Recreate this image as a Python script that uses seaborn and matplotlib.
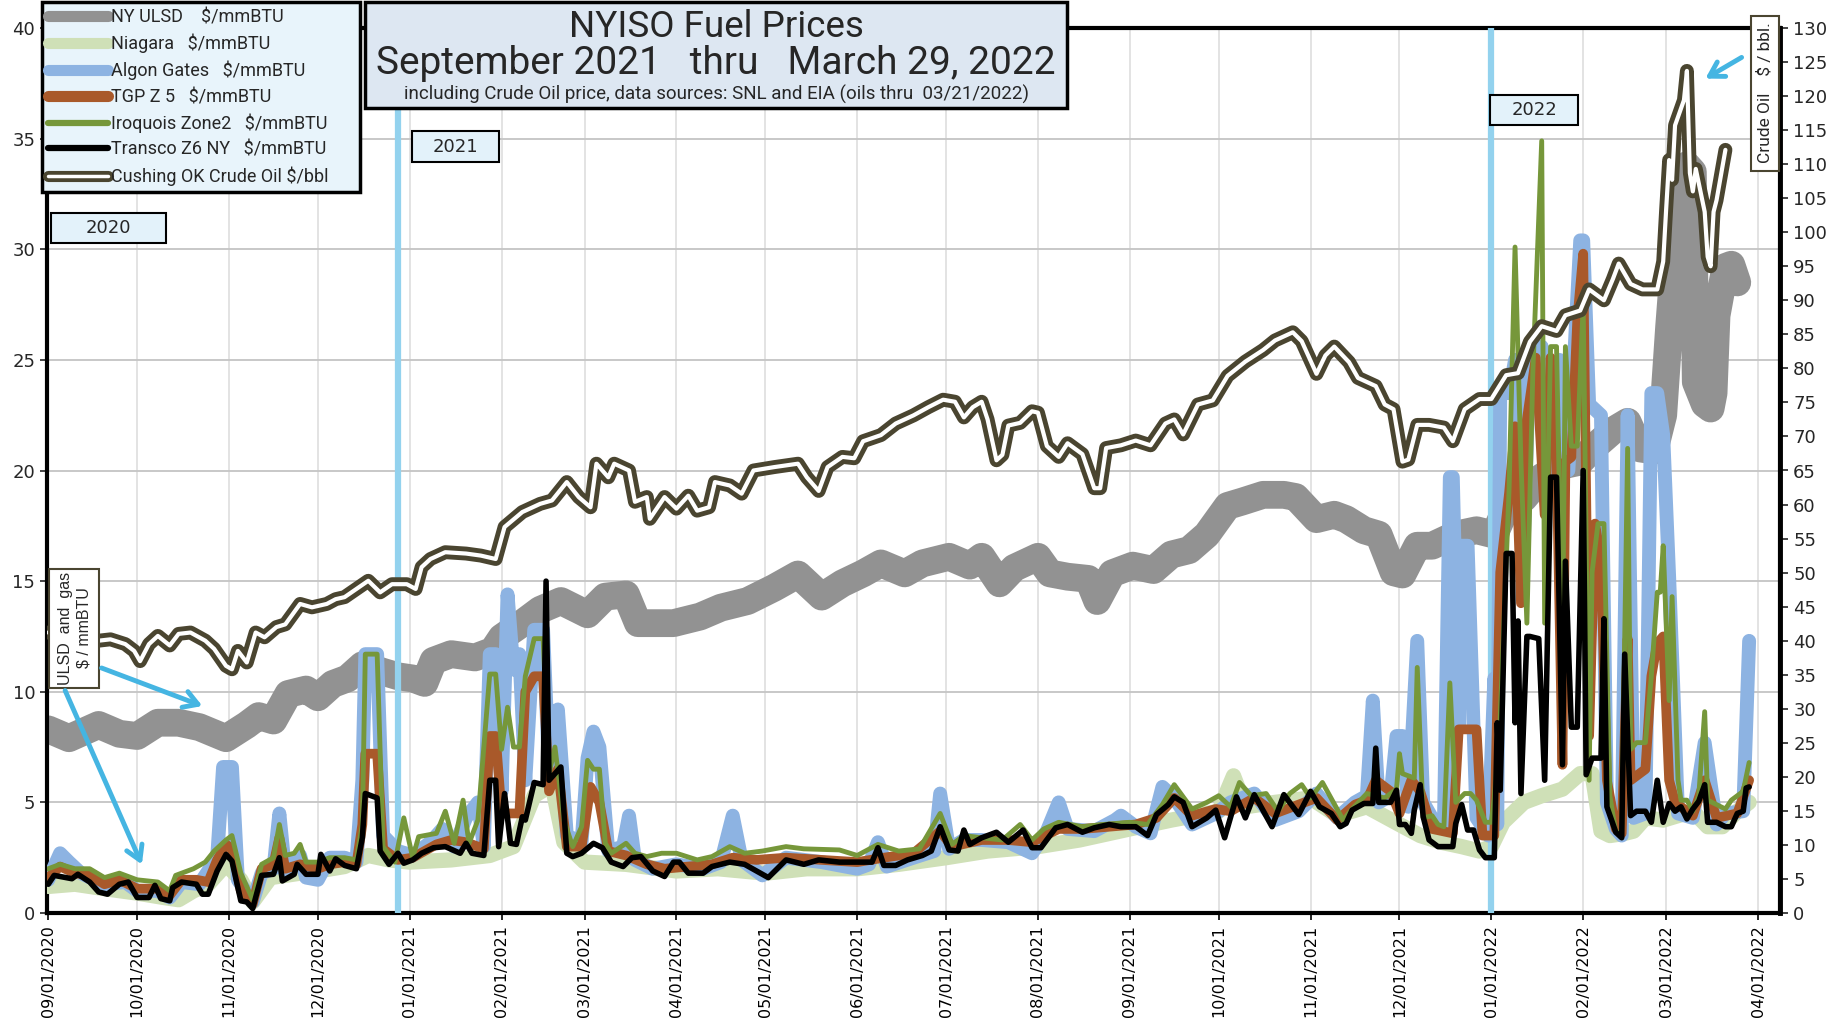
import matplotlib
matplotlib.use("Agg")
import matplotlib.pyplot as plt
import matplotlib.dates as mdates
import matplotlib.patheffects as pe
from matplotlib.lines import Line2D
from matplotlib.patches import Rectangle, FancyArrowPatch
import pandas as pd
import seaborn as sns

W, H = 1835, 1027

# ---------------- data ----------------
ulsd_dates = ["2020-09-01","2020-09-08","2020-09-18","2020-09-25","2020-10-01","2020-10-08","2020-10-15","2020-10-22",
              "2020-10-31","2020-11-07","2020-11-11","2020-11-16","2020-11-21","2020-11-27","2020-12-01","2020-12-06",
              "2020-12-11","2020-12-16","2020-12-23","2020-12-28","2021-01-02","2021-01-06","2021-01-09","2021-01-15",
              "2021-01-23","2021-01-29","2021-02-01","2021-02-08","2021-02-14","2021-02-21","2021-03-02","2021-03-08",
              "2021-03-15","2021-03-19","2021-03-31","2021-04-09","2021-04-16","2021-04-25","2021-05-04","2021-05-12",
              "2021-05-20","2021-05-27","2021-06-03","2021-06-09","2021-06-17","2021-06-23","2021-07-02","2021-07-09",
              "2021-07-13","2021-07-19","2021-07-24","2021-08-01","2021-08-05","2021-08-11","2021-08-18","2021-08-21",
              "2021-08-26","2021-09-02","2021-09-09","2021-09-15","2021-09-21","2021-09-27","2021-10-04","2021-10-09",
              "2021-10-16","2021-10-23","2021-10-27","2021-11-03","2021-11-09","2021-11-13","2021-11-19","2021-11-24",
              "2021-11-29","2021-12-02","2021-12-07","2021-12-12","2021-12-20","2021-12-27","2022-01-02","2022-01-06",
              "2022-01-12","2022-01-18","2022-01-24","2022-01-31","2022-02-05","2022-02-11","2022-02-16","2022-02-20",
              "2022-02-25","2022-02-28","2022-03-02","2022-03-04","2022-03-07","2022-03-08","2022-03-10","2022-03-11",
              "2022-03-14","2022-03-16","2022-03-17","2022-03-18","2022-03-21","2022-03-23","2022-03-25"]
ulsd_vals = [8.3,7.9,8.5,8.1,8.0,8.6,8.6,8.4,7.9,8.5,8.9,8.7,9.9,10.1,9.75,10.35,10.6,11.2,10.9,10.7,10.6,10.4,11.4,11.7,
             11.55,11.85,12.45,13.1,13.7,14.1,13.5,14.3,14.4,13.1,13.1,13.4,13.8,14.1,14.7,15.3,14.3,14.9,15.35,15.8,15.35,
             15.8,16.1,15.7,16.1,14.9,15.6,16.1,15.35,15.2,15.1,14.1,15.35,15.7,15.5,16.2,16.4,17.1,18.4,18.6,18.9,18.9,
             18.8,17.8,18.0,17.8,17.3,17.1,15.4,15.3,16.6,16.6,17.1,17.3,17.1,18.3,18.75,19.7,20.2,20.4,21.1,21.8,22.2,
             21.0,20.9,22.5,26.5,30.0,33.0,33.8,33.5,24.0,23.0,22.8,23.5,27.0,29.2,29.3,28.5]

niagara_dates = ["2020-09-01","2020-09-10","2020-09-20","2020-10-01","2020-10-10","2020-10-15","2020-10-20","2020-10-25",
                 "2020-10-31","2020-11-05","2020-11-09","2020-11-15","2020-11-25","2020-12-01","2020-12-10","2020-12-18",
                 "2020-12-25","2021-01-01","2021-01-15","2021-01-28","2021-02-05","2021-02-12","2021-02-18","2021-02-22",
                 "2021-03-01","2021-03-15","2021-04-01","2021-04-15","2021-05-01","2021-05-15","2021-06-01","2021-06-15",
                 "2021-07-01","2021-07-15","2021-08-01","2021-08-15","2021-09-01","2021-09-15","2021-10-01","2021-10-06",
                 "2021-10-10","2021-10-20","2021-11-01","2021-11-10","2021-11-20","2021-12-01","2021-12-08","2021-12-15",
                 "2021-12-22","2021-12-28","2022-01-01","2022-01-05","2022-01-12","2022-01-18","2022-01-25","2022-01-31",
                 "2022-02-04","2022-02-07","2022-02-10","2022-02-15","2022-02-18","2022-02-22","2022-02-28","2022-03-05",
                 "2022-03-10","2022-03-15","2022-03-20","2022-03-25","2022-03-29"]
niagara_vals = [1.2,1.3,1.1,0.9,0.7,0.6,1.0,1.3,2.2,1.5,0.5,1.6,1.8,1.9,2.1,2.6,2.4,2.3,2.4,2.6,3.0,5.3,5.8,3.2,2.3,2.2,
                1.9,2.0,1.8,2.0,2.0,2.2,2.5,2.8,3.0,3.3,3.8,4.2,4.6,6.2,4.8,5.0,5.2,4.4,4.8,4.0,3.5,3.2,3.0,2.8,3.0,4.1,
                5.0,5.3,5.6,6.3,6.3,3.7,3.5,3.6,3.7,4.3,4.2,4.4,4.6,3.9,3.9,4.6,5.0]

algon_dates = ["2020-09-01","2020-09-05","2020-09-08","2020-09-12","2020-09-20","2020-09-27","2020-10-01","2020-10-08",
               "2020-10-12","2020-10-16","2020-10-22","2020-10-28","2020-10-30","2020-11-02","2020-11-04","2020-11-09",
               "2020-11-12","2020-11-16","2020-11-18","2020-11-20","2020-11-25","2020-11-27","2020-12-01","2020-12-05",
               "2020-12-10","2020-12-14","2020-12-16","2020-12-17","2020-12-21","2020-12-23","2020-12-28","2021-01-02",
               "2021-01-08","2021-01-12","2021-01-16","2021-01-20","2021-01-24","2021-01-26","2021-01-28","2021-01-30",
               "2021-02-01","2021-02-03","2021-02-05","2021-02-07","2021-02-09","2021-02-12","2021-02-15","2021-02-17",
               "2021-02-20","2021-02-23","2021-02-28","2021-03-02","2021-03-04","2021-03-06","2021-03-09","2021-03-14",
               "2021-03-16","2021-03-18","2021-03-24","2021-04-01","2021-04-10","2021-04-16","2021-04-20","2021-04-23",
               "2021-04-30","2021-05-08","2021-05-20","2021-06-01","2021-06-05","2021-06-08","2021-06-11","2021-06-20",
               "2021-06-27","2021-06-29","2021-07-02","2021-07-07","2021-07-13","2021-07-22","2021-07-30","2021-08-04",
               "2021-08-08","2021-08-11","2021-08-20","2021-08-27","2021-08-29","2021-09-03","2021-09-08","2021-09-12",
               "2021-09-16","2021-09-22","2021-09-30","2021-10-05","2021-10-13","2021-10-20","2021-10-28","2021-11-03",
               "2021-11-10","2021-11-16","2021-11-20","2021-11-22","2021-11-24","2021-11-28","2021-11-30","2021-12-02",
               "2021-12-04","2021-12-07","2021-12-09","2021-12-12","2021-12-16","2021-12-18","2021-12-19","2021-12-21",
               "2021-12-22","2021-12-24","2021-12-27","2021-12-31","2022-01-02","2022-01-03","2022-01-04","2022-01-07",
               "2022-01-09","2022-01-12","2022-01-14","2022-01-18","2022-01-20","2022-01-24","2022-01-27","2022-01-31",
               "2022-02-01","2022-02-03","2022-02-07","2022-02-09","2022-02-12","2022-02-14","2022-02-16","2022-02-18",
               "2022-02-22","2022-02-24","2022-02-26","2022-02-28","2022-03-02","2022-03-05","2022-03-10","2022-03-14",
               "2022-03-18","2022-03-21","2022-03-27","2022-03-29"]
algon_vals = [1.5,2.7,2.3,1.8,1.3,1.4,1.0,1.0,0.7,1.4,1.3,2.5,6.6,6.6,1.5,0.5,1.8,2.0,4.5,1.8,2.6,1.6,1.5,2.5,2.5,2.3,
              6.0,11.7,11.7,3.5,2.8,2.6,3.2,3.8,3.0,4.3,5.0,3.0,11.7,11.7,5.5,14.4,11.0,11.7,6.0,12.8,12.8,6.5,9.2,3.5,
              3.2,7.0,8.2,7.5,2.8,3.0,4.4,2.4,2.0,2.2,2.0,2.3,4.4,2.4,1.7,2.5,2.3,2.0,2.2,3.2,2.1,2.5,2.8,5.4,2.9,3.3,
              3.3,3.2,2.7,3.7,5.0,3.8,3.7,4.2,4.4,3.9,3.6,5.7,5.2,4.0,4.5,5.0,5.4,4.2,4.6,5.4,4.3,5.0,5.3,9.6,5.0,5.3,
              8.0,8.0,4.8,12.3,5.0,4.3,4.0,19.7,19.7,8.5,16.6,16.6,4.3,3.5,10.6,4.0,23.5,23.5,25.0,17.0,25.6,25.6,22.0,
              25.0,20.0,30.4,30.4,23.0,22.5,5.0,3.8,3.5,22.5,4.3,4.5,23.5,23.5,21.6,15.2,4.5,4.3,7.7,4.0,4.5,4.6,12.3]

tgp_dates = ["2020-09-01","2020-09-05","2020-09-10","2020-09-15","2020-09-20","2020-09-25","2020-10-01","2020-10-08",
             "2020-10-12","2020-10-16","2020-10-21","2020-10-25","2020-10-28","2020-10-31","2020-11-02","2020-11-05",
             "2020-11-09","2020-11-12","2020-11-16","2020-11-18","2020-11-20","2020-11-25","2020-12-01","2020-12-05",
             "2020-12-10","2020-12-14","2020-12-16","2020-12-17","2020-12-21","2020-12-23","2020-12-28","2021-01-02",
             "2021-01-10","2021-01-15","2021-01-20","2021-01-26","2021-01-28","2021-01-30","2021-02-01","2021-02-05",
             "2021-02-07","2021-02-09","2021-02-12","2021-02-15","2021-02-17","2021-02-20","2021-02-23","2021-02-28",
             "2021-03-03","2021-03-06","2021-03-09","2021-03-15","2021-03-22","2021-03-28","2021-04-05","2021-04-13",
             "2021-04-20","2021-04-28","2021-05-08","2021-05-20","2021-06-01","2021-06-10","2021-06-20","2021-06-29",
             "2021-07-03","2021-07-13","2021-07-22","2021-07-30","2021-08-08","2021-08-16","2021-08-25","2021-09-03",
             "2021-09-10","2021-09-16","2021-09-22","2021-09-30","2021-10-05","2021-10-13","2021-10-20","2021-10-28",
             "2021-11-03","2021-11-10","2021-11-16","2021-11-20","2021-11-23","2021-11-28","2021-12-01","2021-12-05",
             "2021-12-08","2021-12-12","2021-12-19","2021-12-21","2021-12-27","2021-12-29","2022-01-02","2022-01-04",
             "2022-01-07","2022-01-09","2022-01-11","2022-01-13","2022-01-16","2022-01-19","2022-01-21","2022-01-23",
             "2022-01-25","2022-01-26","2022-01-28","2022-01-30","2022-02-01","2022-02-03","2022-02-05","2022-02-07",
             "2022-02-09","2022-02-12","2022-02-14","2022-02-16","2022-02-17","2022-02-22","2022-02-24","2022-02-26",
             "2022-02-28","2022-03-02","2022-03-04","2022-03-10","2022-03-14","2022-03-18","2022-03-25","2022-03-29"]
tgp_vals = [1.6,2.1,1.8,1.7,1.3,1.5,1.1,1.1,0.8,1.5,1.5,1.4,2.4,3.1,2.9,1.0,0.4,2.0,2.2,3.4,2.0,2.2,2.0,2.2,2.3,2.2,
            4.0,7.2,7.2,2.9,2.4,2.5,3.1,3.3,3.2,2.9,8.0,8.0,4.5,4.5,4.5,10.0,10.7,10.7,5.5,6.5,3.0,3.0,5.7,5.0,2.8,2.6,
            2.2,2.0,2.1,2.2,2.5,2.4,2.5,2.4,2.3,2.5,2.7,3.7,3.0,3.3,3.3,3.2,3.8,3.8,3.9,4.0,4.3,5.2,4.4,4.7,4.6,5.2,
            4.5,4.9,5.2,4.2,4.9,5.1,6.0,5.5,4.5,6.0,5.5,3.8,3.6,8.3,8.3,3.5,3.5,15.4,19.0,22.0,14.0,22.3,25.1,18.0,
            25.1,20.6,6.7,20.4,20.6,26.8,29.8,8.0,17.6,16.0,6.0,3.8,3.6,12.4,6.0,6.5,10.7,12.2,12.5,6.0,5.0,4.4,6.0,
            4.3,4.5,6.0]

iroq_dates = ["2020-09-01","2020-09-05","2020-09-10","2020-09-15","2020-09-20","2020-09-25","2020-10-01","2020-10-08",
              "2020-10-12","2020-10-14","2020-10-20","2020-10-24","2020-10-27","2020-10-31","2020-11-02","2020-11-05",
              "2020-11-09","2020-11-12","2020-11-16","2020-11-18","2020-11-20","2020-11-23","2020-11-25","2020-11-27",
              "2020-12-01","2020-12-05","2020-12-10","2020-12-14","2020-12-16","2020-12-17","2020-12-21","2020-12-23",
              "2020-12-27","2020-12-30","2021-01-02","2021-01-04","2021-01-10","2021-01-13","2021-01-16","2021-01-19",
              "2021-01-21","2021-01-24","2021-01-28","2021-01-30","2021-02-01","2021-02-03","2021-02-05","2021-02-07",
              "2021-02-09","2021-02-12","2021-02-15","2021-02-17","2021-02-19","2021-02-22","2021-02-25","2021-02-28",
              "2021-03-02","2021-03-04","2021-03-06","2021-03-08","2021-03-10","2021-03-15","2021-03-18","2021-03-22",
              "2021-03-27","2021-04-01","2021-04-08","2021-04-13","2021-04-19","2021-04-24","2021-04-30","2021-05-08",
              "2021-05-14","2021-05-26","2021-06-01","2021-06-08","2021-06-15","2021-06-22","2021-06-29","2021-07-03",
              "2021-07-07","2021-07-13","2021-07-20","2021-07-26","2021-07-30","2021-08-03","2021-08-08","2021-08-16",
              "2021-08-23","2021-09-01","2021-09-07","2021-09-12","2021-09-16","2021-09-22","2021-09-27","2021-10-01",
              "2021-10-05","2021-10-08","2021-10-12","2021-10-17","2021-10-21","2021-10-25","2021-10-29","2021-11-01",
              "2021-11-05","2021-11-12","2021-11-15","2021-11-20","2021-11-26","2021-11-30","2021-12-01","2021-12-02",
              "2021-12-06","2021-12-07","2021-12-09","2021-12-12","2021-12-14","2021-12-16","2021-12-18","2021-12-20",
              "2021-12-23","2021-12-25","2021-12-27","2021-12-30","2022-01-01","2022-01-02","2022-01-04",
              "2022-01-05","2022-01-07","2022-01-09","2022-01-11","2022-01-13","2022-01-15","2022-01-18","2022-01-19",
              "2022-01-21","2022-01-23","2022-01-25","2022-01-26","2022-01-28","2022-01-30","2022-02-01","2022-02-03",
              "2022-02-04","2022-02-06","2022-02-08","2022-02-10","2022-02-12","2022-02-14","2022-02-16","2022-02-17",
              "2022-02-19","2022-02-22","2022-02-24","2022-02-26","2022-02-27","2022-02-28","2022-03-02","2022-03-03",
              "2022-03-05","2022-03-06","2022-03-08","2022-03-10","2022-03-12","2022-03-14","2022-03-15","2022-03-18",
              "2022-03-21","2022-03-23","2022-03-25","2022-03-27","2022-03-29"]
iroq_vals = [2.0,2.2,2.0,2.0,1.6,1.8,1.5,1.4,1.0,1.7,2.0,2.3,2.8,3.3,3.5,1.8,0.6,2.2,2.5,4.0,2.6,2.7,3.1,2.3,2.3,2.5,
             2.5,2.4,4.0,11.7,11.7,3.0,2.3,4.3,2.5,3.45,3.6,4.6,3.15,5.1,3.15,4.2,10.8,10.8,7.4,9.3,7.5,7.5,10.7,12.4,
             12.4,6.3,7.5,4.2,3.0,3.9,6.9,6.5,6.5,3.15,2.7,3.15,2.7,2.55,2.7,2.7,2.4,2.55,3.0,2.7,2.8,3.0,2.9,2.85,2.6,
             3.1,2.8,2.9,4.5,3.1,3.5,3.4,3.3,4.0,3.3,3.8,4.1,3.9,4.0,4.1,4.0,4.9,5.8,4.7,5.0,5.3,4.8,5.9,5.3,5.4,4.6,
             5.4,5.8,5.2,5.9,4.2,4.7,5.4,5.2,5.6,7.2,6.3,6.1,11.1,4.3,4.4,4.0,3.9,10.4,5.0,5.4,5.4,5.1,4.1,4.1,
             5.2,8.8,12.4,19.2,30.1,20.4,13.1,24.4,34.9,13.1,25.6,25.6,11.9,25.6,21.1,21.1,27.5,6.0,15.4,17.6,17.6,5.3,
             3.65,3.65,21.0,7.4,7.7,7.7,10.7,14.5,14.5,16.6,9.6,14.3,6.0,5.1,5.1,4.6,5.3,9.1,5.1,4.9,4.7,5.1,5.3,5.5,6.8]

transco_dates = ["2020-09-01","2020-09-03","2020-09-09","2020-09-11","2020-09-15","2020-09-18","2020-09-21","2020-09-25",
                 "2020-09-28","2020-10-01","2020-10-05","2020-10-07","2020-10-09","2020-10-12","2020-10-13","2020-10-16",
                 "2020-10-21","2020-10-23","2020-10-25","2020-10-28","2020-10-31","2020-11-02","2020-11-05","2020-11-07",
                 "2020-11-09","2020-11-12","2020-11-16","2020-11-18","2020-11-19","2020-11-23","2020-11-24","2020-11-27",
                 "2020-12-01","2020-12-02","2020-12-05","2020-12-07","2020-12-10","2020-12-14","2020-12-16","2020-12-17",
                 "2020-12-21","2020-12-22","2020-12-25","2020-12-28","2020-12-30","2021-01-02","2021-01-05","2021-01-09",
                 "2021-01-13","2021-01-18","2021-01-20","2021-01-22","2021-01-26","2021-01-28","2021-01-30","2021-01-31",
                 "2021-02-02","2021-02-04","2021-02-06","2021-02-08","2021-02-09","2021-02-12","2021-02-15","2021-02-16",
                 "2021-02-17","2021-02-21","2021-02-23","2021-02-25","2021-02-28","2021-03-04","2021-03-07","2021-03-10",
                 "2021-03-14","2021-03-17","2021-03-20","2021-03-24","2021-03-28","2021-03-31","2021-04-02","2021-04-05",
                 "2021-04-10","2021-04-13","2021-04-19","2021-04-24","2021-05-02","2021-05-08","2021-05-14","2021-05-19",
                 "2021-05-26","2021-06-06","2021-06-08","2021-06-10","2021-06-14","2021-06-18","2021-06-23","2021-06-26",
                 "2021-06-29","2021-07-02","2021-07-05","2021-07-07","2021-07-09","2021-07-13","2021-07-18","2021-07-22",
                 "2021-07-27","2021-07-30","2021-08-02","2021-08-07","2021-08-11","2021-08-16","2021-08-20","2021-08-25",
                 "2021-08-29","2021-09-03","2021-09-07","2021-09-10","2021-09-14","2021-09-16","2021-09-19","2021-09-22",
                 "2021-09-27","2021-09-30","2021-10-03","2021-10-07","2021-10-10","2021-10-13","2021-10-19","2021-10-23",
                 "2021-10-28","2021-11-01","2021-11-04","2021-11-08","2021-11-11","2021-11-13","2021-11-15","2021-11-17",
                 "2021-11-19","2021-11-22","2021-11-23","2021-11-24","2021-11-28","2021-11-30","2021-12-01","2021-12-03",
                 "2021-12-05","2021-12-06","2021-12-08","2021-12-09","2021-12-11","2021-12-14","2021-12-16","2021-12-19",
                 "2021-12-20","2021-12-22","2021-12-24","2021-12-26","2021-12-28","2021-12-30","2022-01-02","2022-01-03",
                 "2022-01-04","2022-01-06","2022-01-08","2022-01-09","2022-01-10","2022-01-11","2022-01-13","2022-01-14",
                 "2022-01-17","2022-01-19","2022-01-21","2022-01-23","2022-01-25","2022-01-26","2022-01-28","2022-01-30",
                 "2022-02-01","2022-02-02","2022-02-04","2022-02-07","2022-02-08","2022-02-09","2022-02-12","2022-02-14",
                 "2022-02-15","2022-02-17","2022-02-19","2022-02-22","2022-02-24","2022-02-26","2022-02-28","2022-03-02",
                 "2022-03-04","2022-03-06","2022-03-08","2022-03-10","2022-03-12","2022-03-14","2022-03-15","2022-03-18",
                 "2022-03-21","2022-03-23","2022-03-25","2022-03-27","2022-03-28","2022-03-29"]
transco_vals = [1.3,1.7,1.55,1.75,1.4,0.95,0.85,1.3,1.4,0.7,0.7,1.25,0.65,0.55,1.15,1.4,1.3,0.85,0.85,1.9,2.65,2.35,0.55,
                0.5,0.2,1.7,1.75,2.5,1.45,1.75,2.2,1.75,1.75,2.65,1.9,2.45,2.15,2.0,3.4,5.4,5.2,2.8,2.2,2.7,2.25,2.4,2.7,
                2.95,3.0,2.7,3.15,2.7,2.6,6.0,6.0,3.0,5.4,3.15,3.1,4.35,4.2,5.9,5.8,15.0,6.0,6.6,2.7,2.55,2.7,3.15,2.95,
                2.3,2.1,2.5,2.55,1.9,1.65,2.3,2.3,1.8,1.8,2.1,2.3,2.2,1.6,2.4,2.2,2.4,2.3,2.3,2.95,2.15,2.15,2.4,2.6,2.8,
                3.9,2.85,2.8,3.75,3.1,3.4,3.65,3.2,3.75,2.95,2.95,3.85,4.0,3.65,3.85,4.0,3.9,3.9,3.5,4.45,4.9,5.25,5.0,
                3.9,4.3,4.65,3.4,5.25,4.3,5.35,3.9,5.35,4.45,5.5,4.8,4.5,3.9,4.05,4.65,4.8,4.95,4.95,7.45,5.0,5.0,5.55,
                4.0,4.0,3.6,4.65,5.8,4.35,3.3,3.0,3.0,3.0,4.05,4.9,3.75,3.75,2.85,2.5,2.5,8.6,5.55,16.25,16.25,8.6,13.2,
                5.4,12.5,12.5,12.4,6.0,19.7,19.7,6.7,15.9,8.4,8.4,20.0,6.25,7.0,7.0,13.3,4.8,3.65,3.4,11.7,4.4,4.6,4.6,
                4.1,6.0,4.1,4.95,4.6,4.8,4.25,4.7,5.05,5.8,4.1,4.1,3.9,3.9,4.5,4.6,5.65,5.7]

crude_dates = ["2020-09-01","2020-09-05","2020-09-10","2020-09-13","2020-09-18","2020-09-22","2020-09-27","2020-09-30",
               "2020-10-02","2020-10-05","2020-10-08","2020-10-12","2020-10-15","2020-10-19","2020-10-24","2020-10-27",
               "2020-10-31","2020-11-02","2020-11-04","2020-11-07","2020-11-10","2020-11-13","2020-11-17","2020-11-20",
               "2020-11-25","2020-11-29","2020-12-04","2020-12-07","2020-12-10","2020-12-14","2020-12-18","2020-12-22",
               "2020-12-26","2020-12-31","2021-01-03","2021-01-05","2021-01-08","2021-01-13","2021-01-20","2021-01-25",
               "2021-01-30","2021-02-02","2021-02-08","2021-02-14","2021-02-18","2021-02-23","2021-02-27","2021-03-03",
               "2021-03-05","2021-03-09","2021-03-11","2021-03-16","2021-03-18","2021-03-22","2021-03-23","2021-03-28",
               "2021-04-01","2021-04-05","2021-04-08","2021-04-12","2021-04-14","2021-04-19","2021-04-23","2021-04-27",
               "2021-05-04","2021-05-12","2021-05-15","2021-05-19","2021-05-22","2021-05-27","2021-05-31","2021-06-03",
               "2021-06-09","2021-06-14","2021-06-20","2021-06-25","2021-06-30","2021-07-04","2021-07-07","2021-07-10",
               "2021-07-13","2021-07-15","2021-07-18","2021-07-20","2021-07-22","2021-07-26","2021-07-30","2021-08-01",
               "2021-08-04","2021-08-08","2021-08-11","2021-08-16","2021-08-20","2021-08-22","2021-08-24","2021-08-29",
               "2021-09-03","2021-09-08","2021-09-13","2021-09-16","2021-09-19","2021-09-24","2021-09-29","2021-10-04",
               "2021-10-10","2021-10-16","2021-10-20","2021-10-26","2021-10-29","2021-11-03","2021-11-06","2021-11-09",
               "2021-11-14","2021-11-17","2021-11-23","2021-11-26","2021-11-29","2021-12-02","2021-12-04","2021-12-07",
               "2021-12-11","2021-12-16","2021-12-19","2021-12-23","2021-12-28","2022-01-01","2022-01-06","2022-01-10",
               "2022-01-14","2022-01-18","2022-01-23","2022-01-26","2022-01-31","2022-02-03","2022-02-08","2022-02-11",
               "2022-02-13","2022-02-17","2022-02-21","2022-02-26","2022-02-28","2022-03-01","2022-03-02","2022-03-03",
               "2022-03-04","2022-03-07","2022-03-08","2022-03-09","2022-03-10","2022-03-11","2022-03-14","2022-03-15",
               "2022-03-16","2022-03-17","2022-03-18","2022-03-21"]
crude_vals = [41.2,40.8,40.2,40.5,40.0,40.2,39.5,38.5,37.0,39.5,40.7,39.3,41.0,41.2,40.0,38.8,36.3,35.8,38.5,36.8,41.2,
              40.5,42.0,42.4,45.4,44.9,45.4,46.1,46.4,47.6,48.8,47.1,48.3,48.3,47.6,50.8,52.0,53.0,52.8,52.5,52.0,56.7,
              58.9,60.1,60.6,63.3,61.1,59.6,66.0,64.0,66.0,65.0,60.4,61.1,57.9,61.1,59.4,61.3,59.1,59.6,63.3,62.8,61.6,
              65.0,65.5,66.0,64.0,62.0,65.5,67.0,66.8,69.3,70.2,71.9,73.1,74.3,75.4,75.1,72.8,74.3,75.1,72.5,66.5,67.3,
              71.6,72.0,73.7,73.5,68.6,67.0,69.0,67.4,62.4,62.4,68.3,68.7,69.4,68.7,71.9,72.5,70.3,74.7,75.3,78.9,81.0,
              82.7,84.1,85.3,84.0,79.2,81.9,83.2,80.9,78.6,77.4,74.7,74.0,66.3,66.6,71.7,71.7,71.3,69.3,74.0,75.5,75.5,
              79.0,79.3,83.9,86.2,85.5,87.8,88.5,91.6,90.0,93.1,95.4,92.4,91.6,91.6,95.7,103.4,110.6,107.7,115.7,119.4,
              123.7,108.7,106.0,109.3,103.0,96.4,95.0,103.0,104.7,112.1]

year_lines = ["2020-12-28", "2022-01-01"]
legend_labels = ["NY ULSD    $/mmBTU", "Niagara   $/mmBTU", "Algon Gates   $/mmBTU", "TGP Z 5   $/mmBTU",
                 "Iroquois Zone2   $/mmBTU", "Transco Z6 NY   $/mmBTU", "Cushing OK Crude Oil $/bbl"]

# ---------------- style ----------------
C_ULSD = "#929292"
C_NIAG = "#cfe0b7"
C_ALGON = "#8db3e2"
C_TGP = "#a9592a"
C_IROQ = "#76973a"
C_TRAN = "#000000"
C_CRUDE = "#4a4530"
C_YEAR = "#93d2ee"
C_ARROW = "#45b5e2"

sns.set_theme(style="white")
plt.rcParams['font.family'] = ['DejaVu Sans']

fig = plt.figure(figsize=(W / 100, H / 100), dpi=100)
ax = fig.add_axes([47 / W, 1 - 913 / H, (1780 - 47) / W, (913 - 28) / H])
ax2 = ax.twinx()


def draw(axis, dates, vals, color, lw, z):
    df = pd.DataFrame({"date": pd.to_datetime(dates), "v": vals})
    sns.lineplot(data=df, x="date", y="v", ax=axis, color=color, linewidth=lw, zorder=z,
                 estimator=None, legend=False, solid_joinstyle="round", solid_capstyle="round")


draw(ax, ulsd_dates, ulsd_vals, C_ULSD, 20, 2)
draw(ax, niagara_dates, niagara_vals, C_NIAG, 11, 3)
for d in year_lines:
    ax.axvline(pd.Timestamp(d), color=C_YEAR, lw=4.5, zorder=3.5)
draw(ax, algon_dates, algon_vals, C_ALGON, 10, 4)
draw(ax, tgp_dates, tgp_vals, C_TGP, 7, 5)
draw(ax, iroq_dates, iroq_vals, C_IROQ, 3.5, 6)
draw(ax, transco_dates, transco_vals, C_TRAN, 4, 7)

draw(ax2, crude_dates, crude_vals, C_CRUDE, 10, 8)
draw(ax2, crude_dates, crude_vals, "white", 3, 9)

ax.set_ylim(0, 40)
ax2.set_ylim(0, 130)
ax.set_xlim(pd.Timestamp("2020-08-31 14:00"), pd.Timestamp("2022-04-08 10:00"))
ax.set_yticks(range(0, 41, 5))
ax2.set_yticks(range(0, 131, 5))
ax.set_xticks(pd.date_range("2020-09-01", "2022-04-01", freq="MS"))
ax.xaxis.set_major_formatter(mdates.DateFormatter("%m/%d/%Y"))
for a in (ax, ax2):
    a.set_xlabel("")
    a.set_ylabel("")
ax.tick_params(axis="x", rotation=90, labelsize=11.5, length=5, width=1.2, direction="out", colors="black", bottom=True)
ax.tick_params(axis="y", labelsize=13, length=5, width=1.2, direction="out", left=True)
ax2.tick_params(axis="y", labelsize=13, length=6, width=1.2, direction="out", right=True)

ax.grid(False)
ax2.grid(False)
ax.yaxis.grid(True, color="#c4c4c4", lw=1.3)
ax.xaxis.grid(True, color="#dedede", lw=1.2)
ax.set_axisbelow(True)

for s in ax.spines.values():
    s.set_color("black")
    s.set_linewidth(3)
for s in ax2.spines.values():
    s.set_visible(False)
ax2.spines["right"].set_visible(True)
ax2.spines["right"].set_color("black")
ax2.spines["right"].set_linewidth(3.5)


def fbox(x0, y0, x1, y1, fc, ec="black", lw=1.5, z=20):
    r = Rectangle((x0 / W, 1 - y1 / H), (x1 - x0) / W, (y1 - y0) / H, transform=fig.transFigure,
                  facecolor=fc, edgecolor=ec, linewidth=lw, zorder=z)
    fig.add_artist(r)


def ftext(x, y, s, **kw):
    fig.text(x / W, 1 - y / H, s, ha="center", va="center", zorder=25, **kw)


# title box
fbox(365, 2, 1067, 108, "#dde7f2", lw=2.5)
ftext(716, 27, "NYISO Fuel Prices", fontsize=26.5, family="Roboto")
ftext(716, 63, "September 2021   thru   March 29, 2022", fontsize=28, family="Roboto")
ftext(716, 94, "including Crude Oil price, data sources: SNL and EIA (oils thru  03/21/2022)", fontsize=13.5,
      family="Roboto")

# year boxes
fbox(51, 213, 166, 243, "#e3f2fa")
ftext(108, 228, "2020", fontsize=13)
fbox(412, 131, 499, 162, "#e3f2fa")
ftext(455, 147, "2021", fontsize=13)
fbox(1490, 95, 1578, 125, "#e3f2fa")
ftext(1534, 110, "2022", fontsize=13)

# axis title boxes
fbox(1751, 16, 1779, 171, "white", ec=C_CRUDE)
ftext(1765, 93, "Crude Oil    $ / bbl.", fontsize=12.5, rotation=90, family="Roboto")
fbox(49, 569, 99, 688, "white", ec=C_CRUDE)
ftext(75, 628, "ULSD  and  gas\n$ / mmBTU", fontsize=11.5, rotation=90, linespacing=1.3, family="Liberation Sans")

# arrows
for tail, tip in [((99, 667), (205, 707)), ((64, 688), (143, 867)), ((1744, 56), (1703, 80))]:
    fig.add_artist(FancyArrowPatch(
        (tail[0] / W, 1 - tail[1] / H), (tip[0] / W, 1 - tip[1] / H), transform=fig.transFigure,
        arrowstyle="->,head_length=10,head_width=6", color=C_ARROW, lw=3.5, zorder=30))

# legend
crude_handle = Line2D([], [], color="white", lw=2.5,
                      path_effects=[pe.Stroke(linewidth=8, foreground=C_CRUDE), pe.Normal()])
handles = [Line2D([], [], color=C_ULSD, lw=8), Line2D([], [], color=C_NIAG, lw=8),
           Line2D([], [], color=C_ALGON, lw=8), Line2D([], [], color=C_TGP, lw=8),
           Line2D([], [], color=C_IROQ, lw=4.5), Line2D([], [], color=C_TRAN, lw=4.5), crude_handle]
leg = fig.legend(handles, legend_labels, loc="upper left",
                 bbox_to_anchor=(42 / W, 1 - 194 / H, 318 / W, 192 / H), mode="expand",
                 frameon=True, fancybox=False, edgecolor="black", facecolor="#e8f4fb", framealpha=1,
                 borderpad=0.35, handlelength=3.3, handletextpad=0.15, labelspacing=0.42, borderaxespad=0,
                 prop=dict(family="Roboto", size=13))
leg.get_frame().set_linewidth(2.5)
leg.set_zorder(40)

fig.savefig("out.png", dpi=100)
